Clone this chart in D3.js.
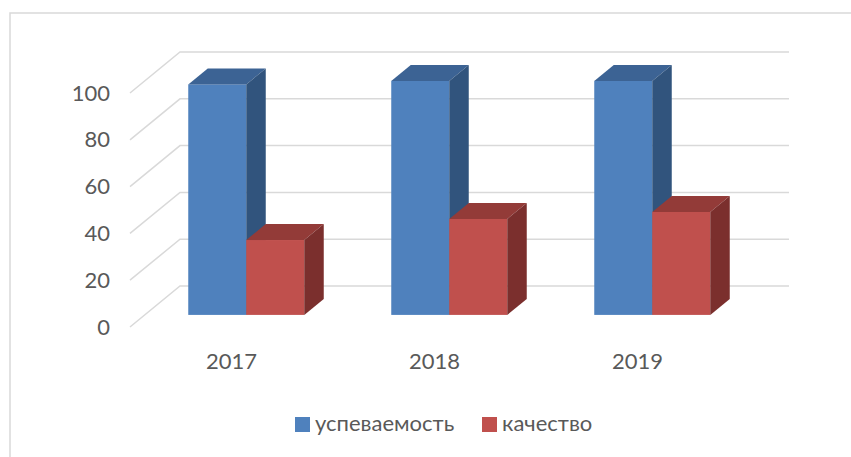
<!DOCTYPE html>
<html>
<head>
<meta charset="utf-8">
<script src="https://cdn.jsdelivr.net/npm/d3@7"></script>
<style>
  body { margin: 0; background: #fff; }
  svg text { font-family: Lato, "Open Sans", sans-serif; fill: #595959; }
</style>
</head>
<body>
<div id="chart"></div>
<script>
// Data
const years = ['2017', '2018', '2019']
const seriesNames = ['успеваемость', 'качество']
const uspevaemost = [98.5, 100, 100]
const kachestvo = [32, 41, 44]
const yTicks = [0, 20, 40, 60, 80, 100]

const seriesValues = [uspevaemost, kachestvo]
const colors = [
  { front: '#4F81BD', top: '#3C6394', side: '#31547D' },
  { front: '#C0504D', top: '#933B38', side: '#7B2F2D' }
]

// Dimensions
const width = 851
const height = 457
const depth = { dx: 50, dy: -41 }   // oblique offset from front to back plane
const barZ = [0.295, 0.685]          // bars sit in the middle of the floor

const svg = d3.select('#chart')
  .append('svg')
  .attr('width', width)
  .attr('height', height)

// Chart border
svg.append('rect')
  .attr('x', 10)
  .attr('y', 13)
  .attr('width', width)
  .attr('height', height)
  .attr('fill', 'none')
  .attr('stroke', '#D9D9D9')
  .attr('stroke-width', 1.5)

// Scales (front plane)
const x = d3.scaleBand().domain(years).range([130, 739])
const xs = d3.scaleBand().domain(seriesNames).range([0, x.bandwidth()]).paddingOuter(0.75)
const y = d3.scaleLinear().domain([0, 100]).range([327, 93])

const proj = (px, py, z) => [px + depth.dx * z, py + depth.dy * z]

// Walls: side diagonal + back gridline
const walls = svg.append('g')
  .attr('fill', 'none')
  .attr('stroke', '#D9D9D9')
  .attr('stroke-width', 1.5)

yTicks.forEach(v => {
  const a = proj(x.range()[0], y(v), 0)
  const b = proj(x.range()[0], y(v), 1)
  const c = proj(x.range()[1], y(v), 1)
  walls.append('path').attr('d', d3.line()([a, b, c]))
})

// Bars
const bars = svg.append('g')
years.forEach((yr, i) => {
  seriesNames.forEach((s, k) => {
    const v = seriesValues[k][i]
    const x0 = x(yr) + xs(s)
    const x1 = x0 + xs.bandwidth()
    const [fx0, ft] = proj(x0, y(v), barZ[0])
    const [fx1, fb] = proj(x1, y(0), barZ[0])
    const dx = depth.dx * (barZ[1] - barZ[0])
    const dy = depth.dy * (barZ[1] - barZ[0])
    const col = colors[k]

    bars.append('rect')
      .attr('x', fx0)
      .attr('y', ft)
      .attr('width', fx1 - fx0)
      .attr('height', fb - ft)
      .attr('fill', col.front)

    bars.append('path')
      .attr('d', d3.line()([[fx0, ft], [fx0 + dx, ft + dy], [fx1 + dx, ft + dy], [fx1, ft]]) + 'Z')
      .attr('fill', col.top)

    bars.append('path')
      .attr('d', d3.line()([[fx1, ft], [fx1 + dx, ft + dy], [fx1 + dx, fb + dy], [fx1, fb]]) + 'Z')
      .attr('fill', col.side)
  })
})

// Left axis - values
const yAxis = svg.append('g')
  .attr('transform', `translate(${x.range()[0]}, 0)`)
  .call(d3.axisLeft(y).tickValues(yTicks).tickSize(0).tickPadding(20))
yAxis.select('.domain').remove()
yAxis.selectAll('text')
  .style('font-size', '22px')
  .attr('fill', '#595959')

// Bottom axis - years
const xAxis = svg.append('g')
  .attr('transform', `translate(0, ${y(0)})`)
  .call(d3.axisBottom(x).tickSize(0).tickPadding(26))
xAxis.select('.domain').remove()
xAxis.selectAll('text')
  .style('font-size', '22px')
  .attr('fill', '#595959')

// Legend
const legendX = [295, 482]
const legend = svg.append('g')
seriesNames.forEach((s, k) => {
  legend.append('rect')
    .attr('x', legendX[k])
    .attr('y', 417)
    .attr('width', 15)
    .attr('height', 15)
    .attr('fill', colors[k].front)
  legend.append('text')
    .attr('x', legendX[k] + 20)
    .attr('y', 431)
    .style('font-size', '22px')
    .text(s)
})
</script>
</body>
</html>
